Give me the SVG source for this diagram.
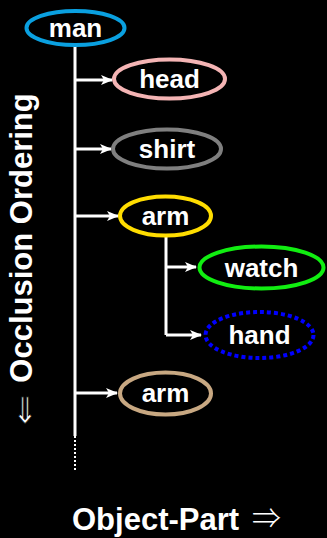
<svg xmlns="http://www.w3.org/2000/svg" width="327" height="538" viewBox="0 0 327 538">
<defs>
<marker id="ah" viewBox="0 0 12 10" refX="11" refY="5" markerWidth="12" markerHeight="10" markerUnits="userSpaceOnUse" orient="auto">
<path d="M0,0 L12,5 L0,10 L3,5 Z" fill="#fff"/>
</marker>
</defs>
<style>
.n{fill:none;stroke-width:4}
.t{font-family:"Liberation Sans",Arial,sans-serif;font-weight:bold;font-size:26px;fill:#fff;text-anchor:middle}
.c{stroke:#fff;stroke-width:3;fill:none}
.big{font-family:"Liberation Sans",Arial,sans-serif;font-weight:bold;font-size:31px;fill:#fff}
.sym{font-family:"Noto Sans CJK JP","DejaVu Sans",sans-serif;font-weight:300;font-size:29px;fill:#fff}
.dn{font-family:"DejaVu Sans",sans-serif;font-size:30px;fill:#fff;stroke:#000;stroke-width:0.7}
</style>
<rect width="327" height="538" fill="#000"/>
<g id="connectors">
<path class="c" d="M75,45 V436"/>
<path d="M75,436 V472" stroke="#fff" stroke-width="2" stroke-dasharray="2,2"/>
<path class="c" d="M75,80 H112" marker-end="url(#ah)"/>
<path class="c" d="M75,149 H111" marker-end="url(#ah)"/>
<path class="c" d="M75,216 H118" marker-end="url(#ah)"/>
<path class="c" d="M75,393 H117" marker-end="url(#ah)"/>
<path class="c" d="M166,237 V335"/>
<path class="c" d="M166,267 H196" marker-end="url(#ah)"/>
<path class="c" d="M166,335 H201" marker-end="url(#ah)"/>
</g>
<g id="man"><ellipse class="n" cx="75.5" cy="28" rx="49" ry="17" stroke="#0aa0e0"/><text class="t" x="75.5" y="37">man</text></g>
<g id="head"><ellipse class="n" cx="169.5" cy="79" rx="55.5" ry="19.5" stroke="#f4b4b4"/><text class="t" x="169.5" y="88">head</text></g>
<g id="shirt"><ellipse class="n" cx="167" cy="149" rx="54" ry="19.5" stroke="#7f7f7f"/><text class="t" x="167" y="158">shirt</text></g>
<g id="arm1"><ellipse class="n" cx="165.5" cy="216" rx="45.5" ry="19.5" stroke="#ffdd00"/><text class="t" x="165.5" y="225">arm</text></g>
<g id="watch"><ellipse class="n" cx="261.5" cy="267.5" rx="62" ry="21" stroke="#11ee11"/><text class="t" x="261.5" y="277">watch</text></g>
<g id="hand"><ellipse class="n" cx="259.5" cy="335" rx="54" ry="23" stroke="#0000ff" stroke-dasharray="4,3"/><text class="t" x="259.5" y="344">hand</text></g>
<g id="arm2"><ellipse class="n" cx="165.5" cy="393.5" rx="45.5" ry="21" stroke="#c8a882"/><text class="t" x="165.5" y="402">arm</text></g>
<text class="big" transform="translate(32,238) rotate(-90)" text-anchor="middle">Occlusion Ordering</text>
<text class="dn" transform="translate(25,423) scale(1,1.2)" text-anchor="middle">⇓</text>
<text class="big" x="72" y="530">Object-Part</text>
<text class="sym" x="252" y="529">⇒</text>
</svg>
